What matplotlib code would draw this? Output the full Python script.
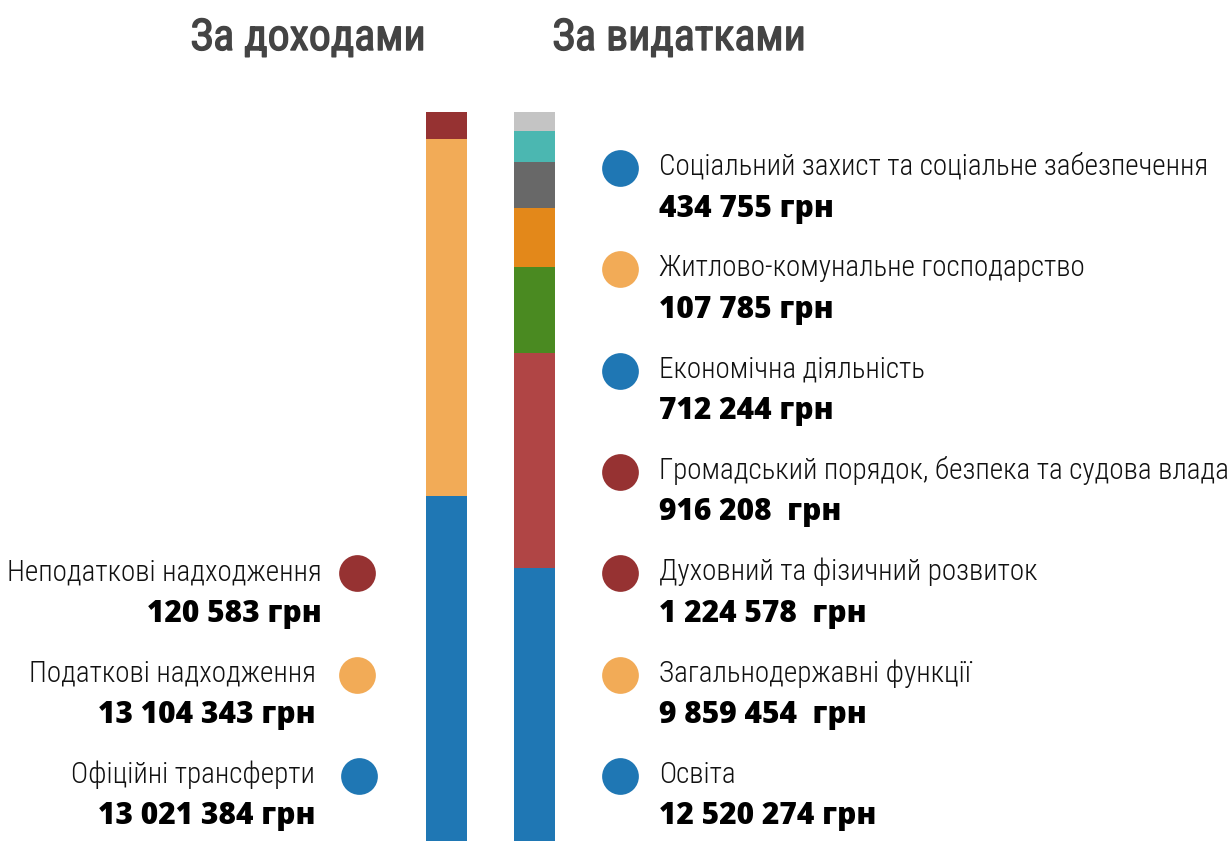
import matplotlib
matplotlib.use('Agg')
import matplotlib.pyplot as plt
import matplotlib.patheffects as pe
from matplotlib import font_manager as fm

# ---------------- data ----------------
income_names = ['Неподаткові надходження', 'Податкові надходження', 'Офіційні трансферти']
income_values = ['120 583 грн', '13 104 343 грн', '13 021 384 грн']
income_dots = ['#963232', '#f2ab57', '#1f77b4']

expense_names = ['Соціальний захист та соціальне забезпечення', 'Житлово-комунальне господарство',
                 'Економічна діяльність', 'Громадський порядок, безпека та судова влада',
                 'Духовний та фізичний розвиток', 'Загальнодержавні функції', 'Освіта']
expense_values = ['434 755 грн', '107 785 грн', '712 244 грн', '916 208  грн',
                  '1 224 578  грн', '9 859 454  грн', '12 520 274 грн']
expense_dots = ['#1f77b4', '#f2ab57', '#1f77b4', '#963232', '#963232', '#f2ab57', '#1f77b4']

# bar segments as drawn (share of column, %, bottom -> top)
income_bar = [47.3, 49.0, 3.7]
income_bar_colors = ['#1f77b4', '#f2ab57', '#963232']
expense_bar = [37.5, 29.4, 11.8, 8.1, 6.3, 4.3, 2.6]
expense_bar_colors = ['#1f77b4', '#b04545', '#4a8a21', '#e3881a', '#686868', '#4bb7b1', '#c4c4c4']

# ---------------- fonts ----------------
names = {f.name for f in fm.fontManager.ttflist}
if 'Roboto Condensed' in names:
    label_font = dict(family='Roboto Condensed', weight='light')
    title_font = dict(family='Roboto Condensed', weight='normal')
else:
    label_font = dict(family='Roboto', weight='light')
    title_font = dict(family='Roboto', weight='medium')
value_font = dict(family='Open Sans', weight='heavy')

W, H = 1231, 841
fig = plt.figure(figsize=(W / 100, H / 100), dpi=100)
ax = fig.add_axes([0, 0, 1, 1])
ax.set_xlim(0, W)
ax.set_ylim(H, 0)
ax.axis('off')

# stacked columns
bx = fig.add_axes([0, 0, 1, 729 / H])
bx.set_xlim(0, W)
bx.set_ylim(0, 100)
bx.axis('off')
bottom = 0
for v, c in zip(income_bar, income_bar_colors):
    bx.bar(446.5, v, width=41, bottom=bottom, color=c, linewidth=0)
    bottom += v
bottom = 0
for v, c in zip(expense_bar, expense_bar_colors):
    bx.bar(534.5, v, width=41, bottom=bottom, color=c, linewidth=0)
    bottom += v

# titles (slightly thickened to look like a medium weight)
title_fx = [pe.withStroke(linewidth=1.0, foreground='#444444')]
ax.text(308, 50, 'За доходами', ha='center', va='baseline', fontsize=31.5, color='#444444',
        path_effects=title_fx, **title_font)
ax.text(679, 50, 'За видатками', ha='center', va='baseline', fontsize=31.5, color='#444444',
        path_effects=title_fx, **title_font)

# expenses legend
step = 101.3
for i, (n, v, c) in enumerate(zip(expense_names, expense_values, expense_dots)):
    yb = 175 + step * i
    ax.scatter(620, yb - 7, s=700, color=c, linewidths=0)
    ax.text(659, yb, n, ha='left', va='baseline', fontsize=21, color='#111111', **label_font)
    ax.text(659, yb + 41.5, v, ha='left', va='baseline', fontsize=21.5, color='#000000', **value_font)

# income legend
right_edge = [322, 316, 315]
dot_x = [357, 357, 359]
for i, (n, v, c) in enumerate(zip(income_names, income_values, income_dots)):
    yb = 175 + step * (i + 4)
    ax.scatter(dot_x[i], yb - 7, s=700, color=c, linewidths=0)
    ax.text(right_edge[i], yb, n, ha='right', va='baseline', fontsize=21, color='#111111', **label_font)
    ax.text(right_edge[i], yb + 41.5, v, ha='right', va='baseline', fontsize=21.5, color='#000000', **value_font)

fig.savefig('out.png', dpi=100)
